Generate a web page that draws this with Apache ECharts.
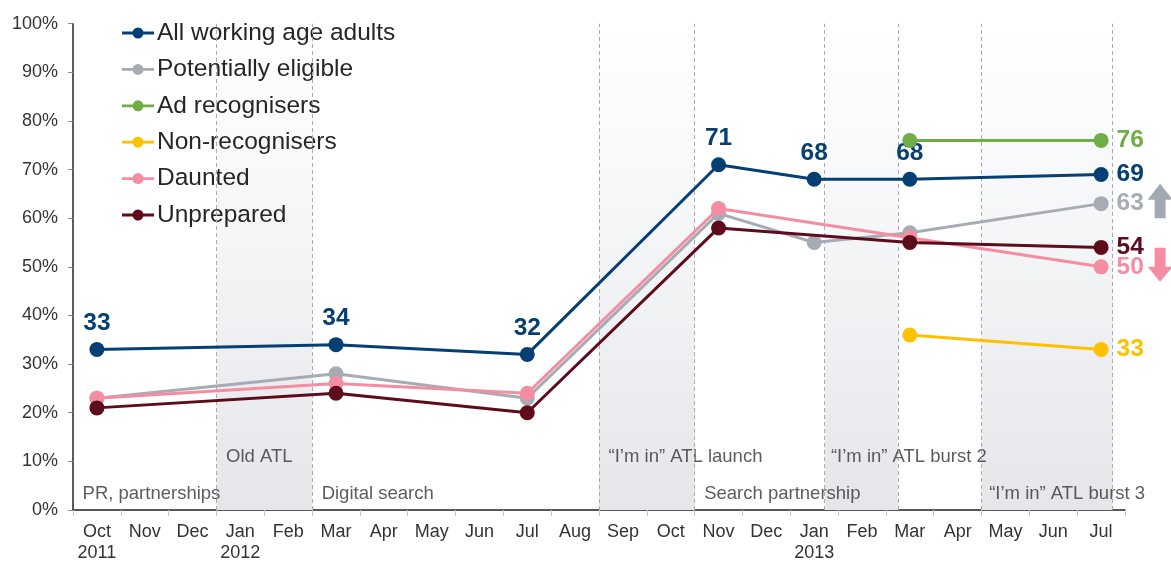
<!DOCTYPE html>
<html>
<head>
<meta charset="utf-8">
<script src="https://cdn.jsdelivr.net/npm/echarts@6/dist/echarts.min.js"></script>
<style>
  html, body { margin: 0; padding: 0; background: #fff; }
  #chart { width: 1171px; height: 561px; }
</style>
</head>
<body>
<div id="chart"></div>
<script>
// Months on the category axis, Oct 2011 – Jul 2013
const months = ['Oct','Nov','Dec','Jan','Feb','Mar','Apr','May','Jun','Jul','Aug',
                'Sep','Oct','Nov','Dec','Jan','Feb','Mar','Apr','May','Jun','Jul'];
const yearLabels = { 0: '2011', 3: '2012', 15: '2013' };

// Survey waves (percent), null where a group was not measured
const allAdults     = [33,null,null,null,null,34,null,null,null,32,null,null,null,71,null,68,null,68,null,null,null,69];
const eligible      = [23,null,null,null,null,28,null,null,null,23,null,null,null,61,null,55,null,57,null,null,null,63];
const adRecognisers = [null,null,null,null,null,null,null,null,null,null,null,null,null,null,null,null,null,76,null,null,null,76];
const nonRecognisers= [null,null,null,null,null,null,null,null,null,null,null,null,null,null,null,null,null,36,null,null,null,33];
const daunted       = [23,null,null,null,null,26,null,null,null,24,null,null,null,62,null,null,null,56,null,null,null,50];
const unprepared    = [21,null,null,null,null,24,null,null,null,20,null,null,null,58,null,null,null,55,null,null,null,54];

const seriesNames = ['All working age adults','Potentially eligible','Ad recognisers','Non-recognisers','Daunted','Unprepared'];
const seriesColors = ['#053f73','#a7acb4','#70ad47','#ffc000','#f58da2','#5e0b1b'];

// Campaign periods, in month units measured from the left edge of the axis
const campaignBands = [[3, 5], [11, 13], [15.72, 17.25], [19, 21.74]];
// Campaign captions: [position in month units, percent height, text]
const campaignNotes = [
  [0.2, 3.4, 'PR, partnerships'],
  [3.2, 11, 'Old ATL'],
  [5.2, 3.4, 'Digital search'],
  [11.2, 11, '\u201cI\u2019m in\u201d ATL launch'],
  [13.2, 3.4, 'Search partnership'],
  [15.85, 11, '\u201cI\u2019m in\u201d ATL burst 2'],
  [19.16, 3.4, '\u201cI\u2019m in\u201d ATL burst 3']
];

const FONT = '"Liberation Sans", Arial, Helvetica, sans-serif';
// Legend key: a short line with a dot in the middle (both drawn clockwise so the dot stays solid)
const legendIcon = 'path://M0,4.1 L32,4.1 L32,6.9 L0,6.9 Z M10.5,5.5 A5.5,5.5 0 1,1 21.5,5.5 A5.5,5.5 0 1,1 10.5,5.5 Z';

function lineSeries(idx, values, labelAll) {
  const color = seriesColors[idx];
  const lastIdx = values.length - 1;
  const data = values.map((v, i) => {
    if (v == null) return null;
    const item = { value: v };
    if (i === lastIdx) {
      item.label = { show: true, position: 'right', distance: 8 };
    } else if (labelAll) {
      item.label = { show: true, position: 'top', distance: 6 };
    } else {
      item.label = { show: false };
    }
    return item;
  });
  return {
    name: seriesNames[idx],
    type: 'line',
    data: data,
    connectNulls: true,
    symbol: 'circle',
    symbolSize: 15,
    lineStyle: { color: color, width: 3 },
    itemStyle: { color: color },
    label: {
      color: color,
      fontFamily: FONT,
      fontSize: 24.5,
      fontWeight: 'bold',
      formatter: p => String(p.value)
    },
    emphasis: { disabled: true },
    animation: false,
    z: 5 + idx
  };
}

const chart = echarts.init(document.getElementById('chart'), null, { renderer: 'canvas' });

const option = {
  backgroundColor: '#ffffff',
  animation: false,
  grid: { left: 73, right: 46, top: 23.7, bottom: 51, containLabel: false, outerBoundsMode: 'none' },
  legend: {
    data: seriesNames,
    orient: 'vertical',
    left: 117,
    top: 15.5,
    icon: legendIcon,
    itemWidth: 32,
    itemHeight: 11,
    itemGap: 11.4,
    textStyle: { fontFamily: FONT, fontSize: 24.5, lineHeight: 24, color: '#262626', padding: [0, 0, 0, -2] },
    selectedMode: false
  },
  xAxis: [
    {
      type: 'category',
      data: months,
      boundaryGap: true,
      axisLine: { lineStyle: { color: '#222', width: 1.5 } },
      axisTick: { show: true, length: 6, lineStyle: { color: '#c4c7cc' } },
      axisLabel: {
        fontFamily: FONT, fontSize: 18, color: '#333', margin: 11.5, lineHeight: 21,
        interval: 0,
        formatter: (v, i) => yearLabels[i] ? v + '\n' + yearLabels[i] : v
      },
      splitLine: { show: false }
    },
    {
      type: 'value',
      min: 0, max: months.length,
      show: false
    }
  ],
  yAxis: {
    type: 'value',
    min: 0, max: 100, interval: 10,
    axisLine: { show: true, lineStyle: { color: '#222', width: 1.5 } },
    axisTick: { show: true, length: 5, lineStyle: { color: '#888' } },
    axisLabel: { fontFamily: FONT, fontSize: 18, color: '#333', margin: 15, formatter: '{value}%' },
    splitLine: { show: false }
  },
  series: [
    {
      name: 'campaigns',
      type: 'scatter',
      xAxisIndex: 1,
      yAxisIndex: 0,
      symbolSize: 0,
      data: campaignNotes.map(n => ({ value: [n[0], n[1]], name: n[2] })),
      label: {
        show: true,
        position: [0, 0],
        align: 'left',
        verticalAlign: 'middle',
        fontFamily: FONT,
        fontSize: 18.5,
        color: '#333',
        formatter: p => p.name
      },
      markArea: {
        silent: true,
        itemStyle: {
          color: {
            type: 'linear', x: 0, y: 0, x2: 0, y2: 1,
            colorStops: [
              { offset: 0, color: 'rgba(255,255,255,1)' },
              { offset: 0.45, color: 'rgba(244,245,247,1)' },
              { offset: 1, color: 'rgba(228,230,234,1)' }
            ]
          }
        },
        data: campaignBands.map(b => [{ xAxis: b[0] }, { xAxis: b[1] }])
      },
      markLine: {
        silent: true,
        symbol: ['none', 'none'],
        label: { show: false },
        lineStyle: { color: '#a9adb3', type: [4, 3], width: 1 },
        data: campaignBands.flat().map(x => ({ xAxis: x }))
      },
      emphasis: { disabled: true },
      z: 1
    },
    lineSeries(0, allAdults, true),
    lineSeries(1, eligible, false),
    lineSeries(2, adRecognisers, false),
    lineSeries(3, nonRecognisers, false),
    lineSeries(4, daunted, false),
    lineSeries(5, unprepared, false)
  ]
};

chart.setOption(option);

// Trend arrows beside the last wave for the eligible and daunted groups
const lastIdx = months.length - 1;
const upAt = chart.convertToPixel({ xAxisIndex: 0, yAxisIndex: 0 }, [lastIdx, eligible[lastIdx]]);
const downAt = chart.convertToPixel({ xAxisIndex: 0, yAxisIndex: 0 }, [lastIdx, daunted[lastIdx]]);
const ax = upAt[0] + 59;

chart.setOption({
  graphic: [
    {
      type: 'polygon',
      shape: { points: [
        [ax, upAt[1] - 20], [ax + 12.5, upAt[1] - 4], [ax + 5.5, upAt[1] - 4], [ax + 5.5, upAt[1] + 14.5],
        [ax - 5.5, upAt[1] + 14.5], [ax - 5.5, upAt[1] - 4], [ax - 12.5, upAt[1] - 4]
      ] },
      style: { fill: '#a3a9b1' },
      z: 20
    },
    {
      type: 'polygon',
      shape: { points: [
        [ax - 5.5, downAt[1] - 19], [ax + 5.5, downAt[1] - 19], [ax + 5.5, downAt[1]],
        [ax + 12.5, downAt[1]], [ax, downAt[1] + 15], [ax - 12.5, downAt[1]], [ax - 5.5, downAt[1]]
      ] },
      style: { fill: '#f58da2' },
      z: 20
    }
  ]
});
</script>
</body>
</html>
